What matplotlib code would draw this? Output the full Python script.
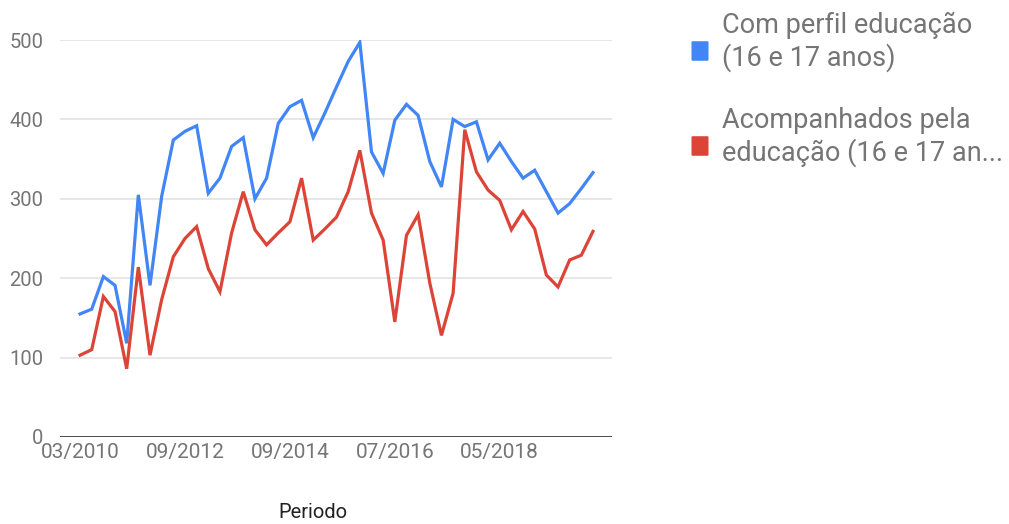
import matplotlib
matplotlib.use("Agg")
import matplotlib.pyplot as plt
from matplotlib.patches import FancyBboxPatch

plt.rcParams['font.family'] = ['Roboto', 'DejaVu Sans']

series_perfil = [155, 161, 202, 191, 118, 305, 191, 303, 374, 385,
                 392, 307, 326, 366, 377, 300, 326, 395, 416, 424,
                 377, 408, 441, 473, 497, 359, 332, 399, 419, 405,
                 347, 315, 400, 391, 397, 349, 370, 347, 326, 336,
                 309, 282, 294, 313, 333]
series_acomp = [103, 110, 177, 158, 86, 214, 103, 173, 227, 250,
                265, 212, 183, 257, 309, 261, 242, 257, 271, 326,
                248, 262, 277, 309, 361, 282, 248, 145, 254, 280,
                194, 128, 181, 387, 334, 311, 298, 261, 284, 262,
                204, 189, 223, 229, 259]
tick_positions = [0, 9, 18, 27, 36]
tick_labels = ["03/2010", "09/2012", "09/2014", "07/2016", "05/2018"]
y_ticks = [0, 100, 200, 300, 400, 500]
legend_labels = ["Com perfil educação\n(16 e 17 anos)",
                 "Acompanhados pela\neducação (16 e 17 an..."]
colors = ["#4285f4", "#db4437"]
x_title = "Periodo"

W, H = 1009, 524
fig = plt.figure(figsize=(W / 100, H / 100), dpi=100)
left, right, top, bottom = 60, 612, 40, 437
ax = fig.add_axes([left / W, 1 - bottom / H, (right - left) / W, (bottom - top) / H])

x = list(range(len(series_perfil)))
ax.plot(x, series_perfil, color=colors[0], lw=2.3, solid_joinstyle='miter', zorder=3)
ax.plot(x, series_acomp, color=colors[1], lw=2.3, solid_joinstyle='miter', zorder=3)

ax.set_xlim(-1.72, len(x) - 1 + 1.63)
ax.set_ylim(0, 500)
ax.set_yticks(y_ticks)
ax.set_yticklabels([str(v) for v in y_ticks])
ax.set_xticks(tick_positions)
ax.set_xticklabels(tick_labels)
ax.tick_params(axis='both', length=0, labelsize=14.5, labelcolor="#757575")
ax.tick_params(axis='y', pad=12)
ax.tick_params(axis='x', pad=4)
for lbl in ax.get_xticklabels():
    lbl.set_fontsize(15)
for s in ax.spines.values():
    s.set_visible(False)
ax.grid(axis='y', color="#e3e3e3", lw=1.2, zorder=0)
ax.axhline(0, color="#333333", lw=1.2, zorder=2)
ax.set_facecolor("white")

fig.text(313 / W, 1 - 512 / H, x_title, ha='center', va='center', fontsize=14.5, color="#222222")

# legend
entries_y = [41, 136]
for lab, col, ly in zip(legend_labels, colors, entries_y):
    sq = FancyBboxPatch(((693) / W, 1 - (ly + 19) / H), 14 / W, 18 / H,
                        boxstyle="round,pad=0.0015", transform=fig.transFigure,
                        facecolor=col, edgecolor=col, lw=0)
    fig.patches.append(sq)
    fig.text(722 / W, 1 - (ly - 29) / H, lab, ha='left', va='top', fontsize=19.5,
             color="#757575", linespacing=1.2)

fig.savefig("out.png", dpi=100, facecolor="white")
